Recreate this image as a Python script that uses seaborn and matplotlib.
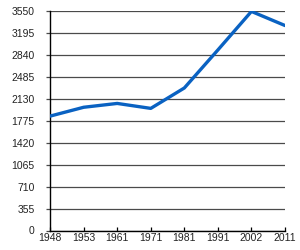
import matplotlib
matplotlib.use("Agg")
import matplotlib.pyplot as plt
import seaborn as sns
import pandas as pd

years = ["1948", "1953", "1961", "1971", "1981", "1991", "2002", "2011"]
population = [1850, 1993, 2055, 1975, 2305, 2920, 3543, 3315]
yticks = [0, 355, 710, 1065, 1420, 1775, 2130, 2485, 2840, 3195, 3550]

sns.set_theme(style="white")
plt.rcParams['font.family'] = ['Liberation Sans', 'DejaVu Sans']

df = pd.DataFrame({"year": years, "pop": population})

fig = plt.figure(figsize=(3.0, 2.5), dpi=100)
ax = fig.add_axes([0.167, 0.078, 0.783, 0.878])

sns.lineplot(data=df, x="year", y="pop", sort=False, color="#0a62c2",
             linewidth=2.4, ax=ax, zorder=3)

ax.set_xlim(0, len(years) - 1)
ax.set_ylim(0, 3550)
ax.set_yticks(yticks)
ax.set_yticklabels([str(v) for v in yticks])
ax.set_xticks(range(len(years)))
ax.set_xticklabels(years)
ax.set_xlabel("")
ax.set_ylabel("")

ax.grid(axis="y", color="#4a4a4a", linewidth=0.9)
ax.grid(axis="x", visible=False)
ax.set_axisbelow(True)

for s in ["top", "right"]:
    ax.spines[s].set_visible(False)
for s in ["left", "bottom"]:
    ax.spines[s].set_color("black")
    ax.spines[s].set_linewidth(1.0)

ax.tick_params(axis="y", direction="out", length=3, width=0.9, color="#4a4a4a",
               pad=8, labelsize=7.5, labelcolor="#222222", left=True)
ax.tick_params(axis="x", direction="in", length=3, width=0.9, color="black",
               pad=2, labelsize=7.5, labelcolor="#222222", bottom=True)

fig.savefig("out.png", dpi=100)
